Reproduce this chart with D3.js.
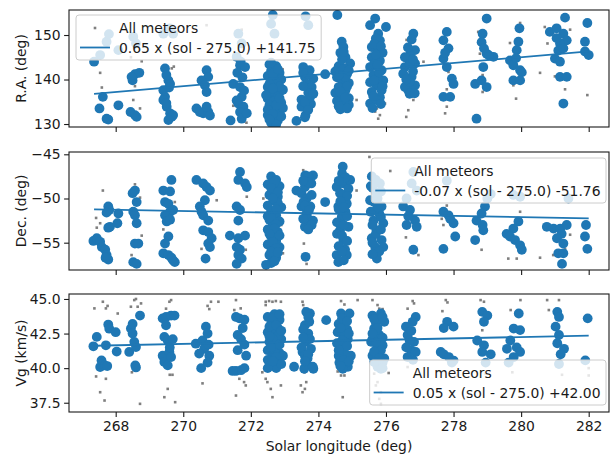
<!DOCTYPE html>
<html>
<head>
<meta charset="utf-8">
<script src="https://cdn.jsdelivr.net/npm/d3@7"></script>
<style>
  body { margin: 0; background: #fff; }
  svg { display: block; }
  text { font-family: "DejaVu Sans", sans-serif; }
</style>
</head>
<body>
<svg id="chart" width="611" height="455"></svg>
<script>
// ---- axis ticks -------------------------------------------------------
const solTicks = [268, 270, 272, 274, 276, 278, 280, 282];
const raTicks = [130, 140, 150];
const decTicks = [-55, -50, -45];
const vgTicks = [37.5, 40.0, 42.5, 45.0];

// ---- linear fits: slope * (sol - solRef) + intercept ---------------------
const solRef = 275.0;
const raFit = [0.65, 141.75];
const decFit = [-0.07, -51.76];
const vgFit = [0.05, 42.00];

// ---- selected meteors [solar longitude, value] ------------------------
const raSel = [
  [267.36,144.0],[267.54,145.5],[267.73,148.5],[267.8,150.2],[268.08,146.6],[267.62,136.1],[267.52,133.5],
  [267.73,131.2],[267.78,131.0],[268.08,134.2],
  [268.5,139.8],[268.57,141.2],[268.7,141.5],[268.47,140.6],[268.44,132.7],[268.57,132.0],[268.62,131.6],
  [268.52,149.6],[268.6,148.1],
  [269.46,142.5],[269.56,139.8],[269.61,139.0],[269.41,137.6],[269.46,136.1],[269.41,135.4],[269.51,133.9],
  [269.61,132.4],[269.66,131.6],[269.7,132.0],[269.56,130.9],[269.41,150.3],[269.7,150.3],[269.6,151.5],
  [269.5,141.0],[269.58,138.2],[269.5,134.7],
  [270.69,142.1],[270.74,140.6],[270.54,139.8],[270.64,138.7],[270.69,137.2],[270.39,133.5],[270.49,132.7],
  [270.59,132.4],[270.74,132.7],[270.79,131.9],[270.69,133.9],
  [271.58,145.1],[271.68,143.2],[271.83,142.8],[271.48,139.0],[271.68,138.3],[271.73,136.1],[271.63,134.6],
  [271.78,133.9],[271.68,132.7],[271.73,131.2],[271.88,132.4],[271.63,150.3],[271.73,148.1],[271.4,130.8],
  [271.75,140.5],[271.6,141.5],[271.8,137.5],[271.58,135.3],[271.7,144.0],
  [272.55,143.4],[272.75,143.0],[272.6,142.0],[272.85,141.5],[272.5,140.8],[272.7,140.5],[272.9,140.0],
  [272.6,139.4],[272.8,139.0],[272.5,138.3],[272.7,137.8],[272.9,137.5],[272.6,136.8],[272.8,136.2],
  [272.5,135.7],[272.7,135.2],[272.9,134.8],[272.55,134.2],[272.75,133.7],[272.6,133.0],[272.85,132.6],
  [272.5,132.0],[272.7,131.5],[272.8,130.8],[272.6,130.3],[272.75,129.9],[272.95,137.7],[272.95,133.6],
  [272.45,136.5],[272.65,154.5],[272.7,150.3],[272.6,152.5],
  [272.65,141.3],[272.8,142.3],[272.55,139.0],[272.85,138.4],[272.65,138.0],[272.75,134.2],[272.5,133.2],
  [272.9,131.7],[272.65,132.3],[272.55,131.0],[272.85,135.8],[272.6,143.8],
  [273.55,142.8],[273.74,142.1],[273.6,140.6],[273.85,140.2],[273.65,139.0],[273.8,138.3],[273.7,137.0],
  [273.5,135.5],[273.78,134.5],[273.5,133.9],[273.62,132.0],[273.35,130.7],[273.75,136.0],[273.6,131.5],
  [273.62,154.2],[273.7,152.2],
  [273.7,141.2],[273.55,138.5],[273.85,136.8],[273.6,134.8],[273.7,133.2],[273.55,141.5],
  [274.2,141.2],
  [274.56,154.5],[274.69,148.5],[274.74,147.3],[274.65,146.0],[274.8,145.0],[274.94,143.6],[274.6,143.0],
  [274.75,142.5],[274.85,141.3],[274.55,140.5],[274.7,139.8],[274.9,139.2],[274.6,138.3],[274.8,137.6],
  [274.5,137.0],[274.7,136.5],[274.9,135.8],[274.55,135.2],[274.75,134.6],[274.9,134.3],[274.65,133.3],
  [274.8,140.5],[274.5,141.8],
  [274.7,144.5],[274.6,141.0],[274.85,138.5],[274.65,137.2],[274.8,136.0],[274.6,134.0],[274.85,133.5],
  [274.75,146.2],[274.9,142.0],
  [275.68,153.7],[275.53,152.2],[276.0,151.8],[275.77,150.3],[275.82,148.8],[275.58,147.3],[275.77,146.9],
  [275.9,146.0],[275.58,145.0],[275.82,144.2],[275.53,142.8],[275.87,142.1],[275.63,141.0],[275.92,139.8],
  [275.53,139.4],[275.72,138.7],[275.87,137.6],[275.58,137.2],[275.82,136.0],[275.53,134.6],[275.72,135.4],
  [275.65,143.5],[275.75,140.2],
  [275.7,149.2],[275.65,148.0],[275.85,147.5],[275.7,145.6],[275.65,139.8],[275.8,141.6],[275.62,136.3],
  [275.85,134.5],[275.6,133.6],[275.75,143.2],[275.9,138.5],
  [276.81,150.3],[276.76,149.0],[276.86,146.6],[276.71,145.5],[276.56,145.0],[276.56,142.8],[276.86,143.6],
  [276.76,140.6],[276.51,141.3],[276.66,137.6],[276.86,138.7],[276.56,138.3],[276.7,139.5],[276.7,143.5],
  [276.65,147.2],[276.8,144.5],[276.6,140.0],[276.8,141.8],[276.7,136.8],[276.85,136.9],
  [277.8,150.7],[277.7,148.8],[277.85,147.0],[277.7,144.7],[277.8,142.8],[277.95,140.2],[278.0,139.0],
  [277.7,136.1],[277.9,136.1],[277.75,146.0],
  [278.98,153.7],[278.86,150.3],[278.83,148.4],[278.98,145.8],[279.18,145.1],[278.88,142.8],[278.64,139.0],
  [278.83,139.8],[278.98,138.3],[278.68,131.2],[279.05,145.4],[278.9,147.0],
  [279.95,151.5],[279.92,148.5],[279.87,146.6],[279.67,144.3],[279.77,143.2],[279.97,142.1],[280.02,141.6],
  [279.77,139.8],[279.97,139.8],[279.85,144.8],
  [281.3,153.9],[280.85,150.7],[281.05,151.5],[281.25,150.3],[281.35,148.8],[281.15,148.1],[281.0,144.7],
  [281.15,144.0],[281.15,140.6],[281.35,140.6],[281.25,134.6],[281.1,146.5],[281.25,147.0],[281.05,149.3],
  [281.96,152.7],[281.89,148.5],[281.89,146.3],[282.0,145.5]
];

const decSel = [
  [267.34,-54.8],[267.44,-54.5],[267.54,-54.9],[267.59,-55.5],[267.69,-55.8],[267.73,-56.4],[267.78,-56.9],
  [267.7,-56.7],[267.78,-50.9],[267.81,-51.3],[267.73,-51.6],[267.78,-53.3],[267.83,-53.2],[268.08,-51.7],
  [268.05,-52.8],
  [268.5,-49.4],[268.57,-49.1],[268.62,-50.4],[268.52,-51.5],[268.57,-51.9],[268.62,-52.8],[268.57,-55.1],
  [268.67,-55.1],[268.52,-57.2],[268.62,-57.4],
  [269.65,-47.9],[269.41,-49.1],[269.61,-49.2],[269.46,-50.4],[269.56,-50.6],[269.61,-51.5],[269.46,-51.9],
  [269.7,-51.3],[269.51,-52.6],[269.61,-52.4],[269.56,-54.3],[269.46,-55.1],[269.41,-56.2],[269.56,-56.4],
  [269.7,-57.0],[269.75,-57.2],[269.65,-56.7],
  [270.39,-47.9],[270.59,-48.3],[270.69,-48.7],[270.79,-49.1],[270.64,-50.2],[270.49,-50.9],[270.54,-51.5],
  [270.59,-51.9],[270.74,-52.5],[270.59,-53.6],[270.74,-53.8],[270.84,-54.5],[270.74,-55.1],[270.79,-55.5],
  [270.66,-56.8],
  [271.68,-47.0],[271.63,-47.9],[271.83,-48.3],[271.88,-48.7],[271.58,-50.9],[271.68,-51.3],[271.63,-52.5],
  [271.38,-54.2],[271.63,-54.5],[271.83,-54.2],[271.58,-55.5],[271.68,-55.8],[271.63,-56.4],[271.73,-56.8],
  [271.58,-57.4],
  [272.6,-47.5],[272.75,-47.9],[272.5,-48.4],[272.85,-48.6],[272.65,-49.0],[272.55,-49.6],[272.8,-49.8],
  [272.7,-50.3],[272.5,-50.8],[272.9,-51.0],[272.6,-51.4],[272.75,-51.9],[272.55,-52.4],[272.85,-52.6],
  [272.65,-53.0],[272.5,-53.5],[272.8,-53.8],[272.6,-54.3],[272.75,-54.8],[272.5,-55.2],[272.85,-55.5],
  [272.65,-55.9],[272.55,-56.4],[272.75,-56.7],[272.6,-57.3],[272.8,-50.5],[272.5,-52.0],[272.7,-54.0],
  [272.7,-48.1],[272.6,-48.8],[272.8,-49.3],[272.65,-50.0],[272.75,-51.2],[272.6,-52.2],[272.75,-52.9],
  [272.7,-53.4],[272.55,-54.0],[272.85,-54.2],[272.65,-54.9],[272.75,-55.6],[272.6,-56.0],[272.8,-56.1],
  [272.7,-57.1],[272.45,-57.5],
  [273.35,-49.1],[273.5,-49.4],[273.6,-48.7],[273.79,-48.3],[273.84,-47.4],[273.65,-50.0],[273.5,-50.9],
  [273.65,-51.7],[273.74,-53.0],[273.6,-53.2],[273.84,-52.5],[273.62,-56.6],[273.61,-47.4],[273.7,-47.5],
  [273.56,-50.4],[273.76,-50.9],[273.66,-52.0],[273.8,-53.0],
  [273.7,-48.2],[273.55,-48.0],[273.8,-49.6],[273.6,-50.8],[273.72,-51.3],[273.55,-52.3],[273.7,-53.5],
  [274.2,-50.4],
  [274.72,-46.4],[274.54,-48.7],[274.74,-48.3],[274.89,-48.9],[274.94,-47.9],[274.64,-49.4],[274.59,-50.9],
  [274.84,-50.6],[274.69,-52.1],[274.64,-53.6],[274.89,-53.2],[274.74,-54.7],[274.79,-55.8],[274.54,-56.4],
  [274.84,-56.4],[274.59,-57.2],[274.7,-49.6],[274.8,-51.5],[274.6,-51.2],[274.55,-54.0],
  [274.7,-47.2],[274.8,-47.6],[274.6,-48.0],[274.85,-49.7],[274.65,-50.3],[274.75,-51.0],[274.85,-52.0],
  [274.55,-52.7],[274.75,-53.0],[274.7,-54.2],[274.85,-54.8],[274.6,-55.4],[274.7,-56.0],[274.75,-57.0],
  [275.58,-47.5],[275.82,-48.3],[275.72,-49.4],[275.53,-50.2],[275.87,-50.9],[275.63,-52.5],[275.92,-52.8],
  [275.72,-53.6],[275.58,-54.5],[275.87,-54.7],[275.68,-55.5],[275.92,-55.5],[275.73,-56.8],[275.6,-48.8],
  [275.8,-51.7],[275.55,-51.5],[275.7,-54.0],
  [275.7,-47.9],[275.55,-48.6],[275.85,-49.2],[275.65,-50.4],[275.75,-51.0],[275.85,-52.1],[275.6,-53.0],
  [275.85,-53.5],[275.6,-55.0],[275.8,-56.0],[275.6,-56.3],[275.75,-50.0],
  [276.81,-47.0],[276.76,-48.3],[276.91,-49.1],[276.61,-50.0],[276.51,-50.9],[276.71,-51.3],[276.86,-52.5],
  [276.61,-53.0],[276.91,-53.2],[276.81,-55.8],[276.66,-52.0],
  [277.7,-51.5],[277.85,-51.9],[278.0,-52.8],[278.05,-54.3],[277.7,-55.7],[277.8,-48.0],[277.9,-52.3],
  [278.93,-50.9],[278.83,-51.7],[278.68,-52.5],[278.86,-53.0],[278.88,-53.6],[278.64,-54.7],[279.0,-50.0],
  [279.1,-49.5],
  [279.92,-52.6],[279.77,-53.4],[279.57,-54.0],[279.67,-54.3],[279.82,-54.7],[279.97,-55.3],[280.02,-55.8],
  [279.77,-49.6],[279.97,-49.8],
  [280.76,-53.2],[280.96,-53.4],[281.16,-53.4],[281.35,-53.0],[281.2,-54.0],[281.06,-54.5],[281.25,-55.1],
  [281.1,-56.2],[281.25,-56.2],[281.21,-57.4],[281.4,-50.0],
  [281.92,-53.0],[281.89,-54.3],[281.96,-55.7]
];

const vgSel = [
  [267.34,41.58],[267.44,42.26],[267.54,40.08],[267.58,40.56],[267.68,40.2],[267.75,40.15],[267.71,41.65],
  [267.78,43.15],[267.81,42.85],[268.0,42.6],[268.03,41.2],
  [268.45,42.86],[268.5,43.2],[268.72,43.8],[268.4,41.17],[268.6,41.53],[268.55,41.9],[268.5,42.5],
  [268.58,40.2],[268.6,40.05],
  [269.39,43.6],[269.49,43.7],[269.64,43.8],[269.74,43.8],[269.49,43.1],[269.44,42.26],[269.54,42.0],
  [269.69,42.1],[269.39,40.9],[269.59,41.17],[269.44,40.45],[269.54,40.2],[269.64,40.8],[269.6,41.5],
  [270.37,41.77],[270.57,42.0],[270.67,43.0],[270.72,42.5],[270.62,41.4],[270.77,40.9],[270.47,41.05],
  [270.53,40.0],[270.72,40.4],[270.75,41.7],
  [271.56,43.7],[271.66,43.6],[271.81,43.5],[271.76,42.9],[271.61,42.4],[271.71,42.1],[271.81,41.7],
  [271.61,41.3],[271.86,40.9],[271.56,39.8],[271.71,39.85],[271.81,40.0],[271.46,39.8],
  [272.5,43.7],[272.7,43.9],[272.85,43.5],[272.6,43.2],[272.8,42.9],[272.5,42.6],[272.7,42.4],
  [272.9,42.1],[272.55,41.9],[272.75,41.6],[272.5,41.3],[272.85,41.1],[272.65,40.9],[272.5,40.6],
  [272.8,40.5],[272.6,40.2],[272.75,40.0],[272.5,40.0],[272.95,40.9],[272.7,41.2],[272.6,42.8],[272.8,42.3],
  [272.65,43.6],[272.55,43.0],[272.75,43.1],[272.9,42.7],[272.65,42.1],[272.85,41.7],[272.6,41.5],
  [272.75,40.8],[272.9,40.3],[272.65,40.5],[272.55,42.3],[272.85,43.9],
  [273.28,40.1],[273.53,41.17],[273.63,41.9],[273.75,43.95],[273.6,43.1],[273.7,42.5],[273.5,41.5],
  [273.85,39.95],[273.65,40.3],[273.6,40.9],[273.64,44.07],[273.73,43.35],[273.78,41.4],[273.68,40.7],
  [273.58,39.95],[273.83,40.1],
  [273.7,43.7],[273.55,42.8],[273.75,42.1],[273.55,42.2],[273.7,41.0],[273.6,40.5],
  [274.23,43.47],
  [274.67,43.95],[274.92,43.95],[274.77,43.35],[274.57,42.6],[274.87,42.1],[274.67,41.4],[274.96,40.9],
  [274.62,40.4],[274.87,40.1],[274.72,39.95],[274.6,43.2],[274.85,42.8],[274.55,41.8],[274.8,41.0],
  [274.6,40.9],[274.75,42.3],
  [274.7,43.6],[274.85,43.4],[274.65,42.9],[274.9,42.5],[274.7,42.0],[274.85,41.6],[274.6,41.3],
  [274.75,40.6],[274.9,40.5],[274.65,40.15],
  [275.6,43.8],[275.85,43.95],[275.95,43.35],[275.65,42.86],[275.56,41.9],[275.9,41.65],[275.6,40.9],
  [275.95,40.7],[275.75,40.1],[275.85,39.95],[275.7,43.3],[275.8,42.4],[275.6,42.1],[275.75,41.2],[275.9,40.4],
  [275.65,43.55],[275.9,43.7],[275.75,42.9],[275.6,42.5],[275.9,42.2],[275.7,41.8],[275.85,41.3],
  [275.65,41.2],[275.8,40.7],[275.65,40.45],[275.9,40.0],
  [276.88,43.7],[276.79,43.35],[276.59,43.0],[276.64,42.4],[276.83,41.9],[276.74,41.3],[276.64,40.8],
  [276.88,41.17],[276.75,42.7],[276.7,42.0],[276.6,41.5],[276.8,40.6],
  [277.81,43.35],[277.71,42.9],[278.0,43.0],[277.62,41.17],[277.71,41.0],[277.86,40.8],[278.0,40.55],
  [277.95,40.4],
  [278.85,44.07],[279.0,43.8],[278.9,43.35],[278.7,42.0],[278.9,41.65],[278.85,41.17],[278.95,40.4],
  [279.1,41.0],
  [279.93,43.95],[279.78,42.86],[279.97,42.75],[279.68,42.0],[279.87,41.5],[279.58,41.4],[279.97,41.17],
  [279.78,40.8],[279.63,40.4],
  [281.07,44.07],[281.12,43.7],[281.02,43.0],[281.12,42.4],[281.07,41.8],[281.27,41.4],[281.17,41.0],
  [281.12,40.3],
  [281.97,43.6],[281.9,40.56]
];

// ---- all meteors [solar longitude, value] -----------------------------
const raAll = [
  [267.54,141.5],[267.59,138.2],[268.52,135.4],[268.57,138.5],[268.72,133.5],[268.77,144.1],[268.45,145.0],
  [269.66,142.5],[269.72,142.9],[270.69,152.2],[271.48,134.1],[271.73,151.2],[271.87,130.3],[272.94,142.3],
  [275.13,135.4],[275.58,148.5],[275.73,133.5],[275.82,132.0],[275.77,131.2],[275.97,134.6],[275.68,132.8],
  [276.61,148.9],[277.11,144.0],[276.81,135.4],[276.66,133.1],[276.6,131.6],
  [277.85,141.7],[277.8,137.8],[277.8,133.9],[277.75,132.4],
  [278.73,150.7],[278.78,145.8],[278.86,141.0],[278.86,137.2],
  [279.97,152.7],[279.67,148.2],[279.85,135.7],[279.77,138.7],[280.56,141.5],
  [280.7,151.8],[280.78,148.1],[281.45,151.2],[281.3,137.8],[281.0,140.7],[281.96,136.5]
];

const decAll = [
  [267.62,-49.1],[267.42,-52.2],[267.44,-53.3],[267.54,-52.8],[268.57,-48.4],[268.77,-54.2],[268.47,-56.4],
  [268.72,-49.9],[269.75,-50.4],[269.41,-53.5],[270.99,-50.2],[270.54,-55.7],[271.88,-49.8],[271.85,-55.8],
  [272.9,-53.0],[272.95,-56.2],[272.37,-50.0],[273.55,-46.8],[273.57,-55.1],[273.65,-57.4],[273.58,-52.6],
  [275.51,-45.3],[275.13,-49.1],[275.92,-52.3],[276.59,-54.4],[276.96,-56.4],[277.8,-50.8],[277.65,-52.3],
  [277.7,-53.0],[278.83,-55.8],[279.97,-51.5],[279.62,-56.8],[279.87,-56.8],[280.56,-56.7],[281.45,-54.1],
  [280.95,-56.4],[281.3,-55.7]
];

const vgAll = [
  [267.37,44.32],[267.62,44.8],[267.71,44.32],[267.76,44.5],[268.06,43.95],[267.42,39.4],[267.71,39.23],
  [267.54,38.26],[267.67,37.66],
  [268.55,44.92],[268.6,45.0],[268.65,44.44],[268.75,44.68],[268.45,44.44],[268.48,39.7],[268.72,37.42],
  [269.59,44.8],[269.64,44.92],[269.49,44.3],[269.6,39.52],[269.68,39.52],[269.54,38.5],[269.44,37.9],
  [269.76,37.54],
  [270.57,38.9],[270.77,44.27],[270.72,44.5],[270.82,44.8],[271.04,44.8],
  [271.56,44.92],[271.51,44.2],[271.7,44.32],[271.8,38.99],[271.56,38.02],[271.66,39.23],[271.85,38.75],
  [272.44,44.8],[272.54,44.85],[272.64,44.8],[272.74,44.85],[272.89,44.8],[272.44,44.56],[272.34,39.7],
  [272.44,39.23],[272.59,38.5],[272.64,37.9],[272.89,38.75],[272.49,38.99],
  [273.53,44.8],[273.55,44.56],[273.58,44.3],[273.53,38.26],[273.6,38.5],[273.48,38.75],[273.59,39.7],
  [273.64,38.99],
  [274.67,44.85],[274.77,44.6],[275.16,44.92],[274.57,39.76],[274.67,39.47],[274.77,39.47],[274.72,37.9],
  [275.6,44.92],[275.75,44.56],[275.8,44.3],[275.9,44.27],[275.65,39.6],[275.75,38.99],[275.85,38.26],
  [275.8,37.78],[275.85,37.42],[275.7,38.75],
  [276.64,44.3],[276.79,44.85],[276.83,44.68],[276.64,40.08],
  [277.77,44.92],[277.82,44.75],[277.67,44.12],[278.11,39.47],
  [278.8,44.92],[278.9,44.8],[278.85,42.74],[278.95,39.6],
  [279.69,44.2],[279.98,44.92],[279.74,39.7],
  [280.77,44.92],[281.12,44.92],[280.82,44.2],[281.21,39.52],
  [282.0,40.0],[282.0,39.47]
];

// ---- layout -----------------------------------------------------------
const svg = d3.select("#chart");
const plotLeft = 69, plotRight = 609;
const ink = "#1a1a1a";
const blue = "#1f77b4";
const grey = "#7f7f7f";
const fontPx = 13.9;

const x = d3.scaleLinear().domain([266.618, 282.601]).range([plotLeft, plotRight]);

const minus = v => (v < 0 ? "\u2212" + Math.abs(v) : String(v));
const fmtFit = (s, b) =>
  `${s.toFixed(2)} x (sol - ${solRef.toFixed(1)}) ${b < 0 ? "-" : "+"}${Math.abs(b).toFixed(2)}`;

const panels = [
  { top: 10, bottom: 127, domain: [129.33, 155.62], ticks: raTicks, fmt: d => String(d),
    label: "R.A. (deg)", sel: raSel, all: raAll, fit: raFit, legend: { left: 76, top: 15 } },
  { top: 152, bottom: 270, domain: [-58.09, -44.74], ticks: decTicks, fmt: minus,
    label: "Dec. (deg)", sel: decSel, all: decAll, fit: decFit, legend: { right: 606, top: 158 } },
  { top: 294, bottom: 412, domain: [36.83, 45.36], ticks: vgTicks, fmt: d3.format(".1f"),
    label: "Vg (km/s)", sel: vgSel, all: vgAll, fit: vgFit, legend: { right: 606, top: 360 } }
];

const allSol = [...raSel, ...raAll].map(d => d[0]);
const solExtent = d3.extent(allSol);

panels.forEach((p, i) => {
  const y = d3.scaleLinear().domain(p.domain).range([p.bottom, p.top]);
  const g = svg.append("g");
  const clipId = "clip" + i;
  svg.append("clipPath").attr("id", clipId).append("rect")
    .attr("x", plotLeft).attr("y", p.top)
    .attr("width", plotRight - plotLeft).attr("height", p.bottom - p.top);

  const marks = g.append("g").attr("clip-path", `url(#${clipId})`);

  // every meteor: small grey squares
  const sq = 2.6;
  marks.append("g").selectAll("rect").data(p.all).join("rect")
    .attr("x", d => x(d[0]) - sq / 2).attr("y", d => y(d[1]) - sq / 2)
    .attr("width", sq).attr("height", sq).attr("fill", grey);

  // selected meteors: large blue dots
  marks.append("g").selectAll("circle").data(p.sel).join("circle")
    .attr("cx", d => x(d[0])).attr("cy", d => y(d[1])).attr("r", 4.9)
    .attr("fill", blue);

  // fitted trend
  const [slope, icpt] = p.fit;
  const fitLine = d3.line().x(d => x(d)).y(d => y(slope * (d - solRef) + icpt));
  marks.append("path").datum(solExtent).attr("d", fitLine)
    .attr("fill", "none").attr("stroke", blue).attr("stroke-width", 1.8);

  // axes
  const yAxis = d3.axisLeft(y).tickValues(p.ticks).tickFormat(p.fmt).tickSize(4.9).tickPadding(3.5);
  const gy = g.append("g").attr("transform", `translate(${plotLeft},0)`).call(yAxis);
  const xAxis = d3.axisBottom(x).tickValues(solTicks).tickSize(4.9).tickPadding(4.5)
    .tickFormat(i === panels.length - 1 ? d => String(d) : () => "");
  const gx = g.append("g").attr("transform", `translate(0,${p.bottom})`).call(xAxis);
  [gx, gy].forEach(a => {
    a.select(".domain").remove();
    a.selectAll("line").attr("stroke", ink).attr("stroke-width", 1.1);
    a.selectAll("text").attr("fill", ink).style("font-size", fontPx + "px")
      .style("font-family", '"DejaVu Sans", sans-serif');
  });

  // frame
  g.append("rect").attr("x", plotLeft).attr("y", p.top)
    .attr("width", plotRight - plotLeft).attr("height", p.bottom - p.top)
    .attr("fill", "none").attr("stroke", ink).attr("stroke-width", 1.1);

  // y label
  g.append("text")
    .attr("transform", `translate(26,${(p.top + p.bottom) / 2}) rotate(-90)`)
    .attr("text-anchor", "middle").attr("fill", ink).style("font-size", fontPx + "px")
    .text(p.label);

  // legend
  const lg = svg.append("g");
  const fitText = fmtFit(slope, icpt);
  const probe = lg.append("text").style("font-size", fontPx + "px").text(fitText);
  const tw = probe.node().getComputedTextLength();
  probe.remove();
  const lw = 43 + tw + 5.5, lh = 45;
  const lx = p.legend.left !== undefined ? p.legend.left : p.legend.right - lw;
  const ly = p.legend.top;
  lg.append("rect").attr("x", lx).attr("y", ly).attr("width", lw).attr("height", lh)
    .attr("rx", 3).attr("fill", "#fff").attr("fill-opacity", 0.8)
    .attr("stroke", "#cccccc").attr("stroke-width", 1);
  lg.append("rect").attr("x", lx + 19 - sq / 2).attr("y", ly + 13 - sq / 2)
    .attr("width", sq).attr("height", sq).attr("fill", grey);
  lg.append("line").attr("x1", lx + 4).attr("x2", lx + 34)
    .attr("y1", ly + 32.5).attr("y2", ly + 32.5)
    .attr("stroke", blue).attr("stroke-width", 1.8);
  lg.append("text").attr("x", lx + 43).attr("y", ly + 18)
    .attr("fill", ink).style("font-size", fontPx + "px").text("All meteors");
  lg.append("text").attr("x", lx + 43).attr("y", ly + 37.8)
    .attr("fill", ink).style("font-size", fontPx + "px").text(fitText);
});

// x label
svg.append("text").attr("x", (plotLeft + plotRight) / 2).attr("y", 451)
  .attr("text-anchor", "middle").attr("fill", ink).style("font-size", fontPx + "px")
  .text("Solar longitude (deg)");
</script>
</body>
</html>
